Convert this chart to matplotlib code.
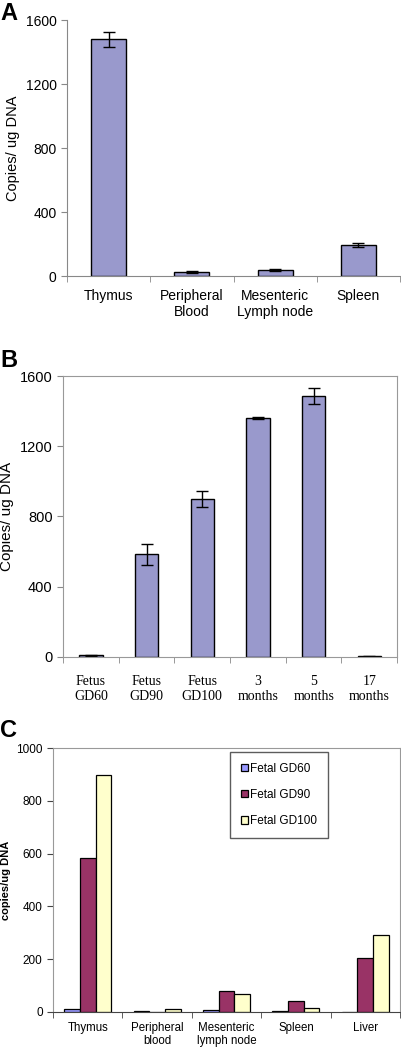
import numpy as np
import matplotlib.pyplot as plt

# panel A: tissue distribution
tissues_a = ["Thymus", "Peripheral\nBlood", "Mesenteric\nLymph node", "Spleen"]
copies_a = [1480, 28, 38, 195]
err_a = [45, 6, 6, 12]

# panel B: age series
ages_b = ["Fetus\nGD60", "Fetus\nGD90", "Fetus\nGD100", "3\nmonths", "5\nmonths", "17\nmonths"]
copies_b = [10, 585, 900, 1360, 1485, 3]
err_b = [3, 60, 45, 5, 45, 1]

# panel C: fetal tissues
tissues_c = ["Thymus", "Peripheral\nblood", "Mesenteric\nlymph node", "Spleen", "Liver"]
gd60 = [12, 2, 8, 3, 0]
gd90 = [583, 1, 80, 40, 205]
gd100 = [898, 13, 70, 17, 290]
series_c = ["Fetal GD60", "Fetal GD90", "Fetal GD100"]

BAR = "#9999cc"
COLORS_C = ["#9999ff", "#993366", "#ffffcc"]

plt.rcParams["font.family"] = ["Liberation Sans", "DejaVu Sans"]

fig = plt.figure(figsize=(4.02, 10.5), dpi=100)

# ---- A ----
ax = fig.add_axes([0.167, 0.737, 0.828, 0.2438])
x = np.arange(len(tissues_a))
ax.bar(x, copies_a, width=0.42, color=BAR, edgecolor="black", linewidth=1.0,
       yerr=err_a, capsize=4, error_kw={"elinewidth": 1, "capthick": 1})
ax.set_xlim(-0.5, len(tissues_a) - 0.5)
ax.set_ylim(0, 1600)
ax.set_yticks([0, 400, 800, 1200, 1600])
ax.set_xticks(x, tissues_a, fontsize=10)
ax.set_xticks(np.arange(len(tissues_a) + 1) - 0.5, minor=True)
ax.tick_params(axis="x", which="major", length=0, pad=9)
ax.tick_params(axis="x", which="minor", length=4, color="#888888")
ax.tick_params(axis="y", labelsize=10, length=4, color="#888888")
ax.set_ylabel("Copies/ ug DNA", fontsize=10.5)
for s in ["top", "right"]:
    ax.spines[s].set_visible(False)
for s in ["left", "bottom"]:
    ax.spines[s].set_color("#888888")
fig.text(0.0, 0.998, "A", fontsize=17, fontweight="bold", va="top", ha="left")

# ---- B ----
ax = fig.add_axes([0.157, 0.3743, 0.831, 0.2676])
x = np.arange(len(ages_b))
ax.bar(x, copies_b, width=0.42, color=BAR, edgecolor="black", linewidth=1.0,
       yerr=err_b, capsize=4, error_kw={"elinewidth": 1, "capthick": 1})
ax.set_xlim(-0.5, len(ages_b) - 0.5)
ax.set_ylim(0, 1600)
ax.set_yticks([0, 400, 800, 1200, 1600])
ax.set_xticks(x, ages_b, fontsize=10, family=["Liberation Serif", "DejaVu Serif"])
ax.set_xticks(np.arange(len(ages_b) + 1) - 0.5, minor=True)
ax.tick_params(axis="x", which="major", length=0, pad=13)
ax.tick_params(axis="x", which="minor", length=4, color="#888888")
ax.tick_params(axis="y", labelsize=10.5, length=4, color="#888888")
ax.set_ylabel("Copies/ ug DNA", fontsize=11)
for s in ax.spines.values():
    s.set_color("#999999")
fig.text(0.0, 0.668, "B", fontsize=17, fontweight="bold", va="top", ha="left")

# ---- C ----
ax = fig.add_axes([0.132, 0.0362, 0.863, 0.2514])
x = np.arange(len(tissues_c))
w = 0.225
for i, (vals, lab) in enumerate(zip([gd60, gd90, gd100], series_c)):
    ax.bar(x + (i - 1) * w, vals, width=w, color=COLORS_C[i], edgecolor="black",
           linewidth=0.9, label=lab)
ax.set_xlim(-0.5, len(tissues_c) - 0.5)
ax.set_ylim(0, 1000)
ax.set_yticks([0, 200, 400, 600, 800, 1000])
ax.set_xticks(x, tissues_c, fontsize=8.3, linespacing=1.1)
ax.set_xticks(np.arange(len(tissues_c) + 1) - 0.5, minor=True)
ax.tick_params(axis="x", which="major", length=0, pad=7)
ax.tick_params(axis="x", which="minor", length=4, color="#444444")
ax.tick_params(axis="y", labelsize=8.5, length=4, color="#444444")
ax.set_ylabel("copies/ug DNA", fontsize=8, fontweight="bold")
for s in ax.spines.values():
    s.set_color("#999999")
ax.spines["bottom"].set_color("#444444")
leg = ax.legend(loc="upper left", bbox_to_anchor=(0.51, 0.985), fontsize=8.5,
                frameon=True, fancybox=False, edgecolor="#333333",
                handlelength=0.6, handleheight=0.6, handletextpad=0.2,
                labelspacing=1.2, borderpad=0.9, borderaxespad=0)
leg.get_frame().set_linewidth(1.0)
fig.text(0.0, 0.315, "C", fontsize=17, fontweight="bold", va="top", ha="left")

fig.savefig("out.png", dpi=100)
